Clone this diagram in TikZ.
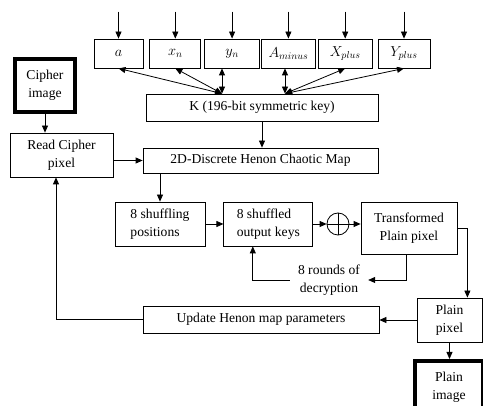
\documentclass[tikz,border=0pt]{standalone}
\usepackage{fontspec}
\setmainfont{Liberation Serif}
\usetikzlibrary{positioning,arrows.meta}

\begin{document}
\begin{tikzpicture}[x=1pt,y=-1pt,
    box/.style={draw, line width=0.8pt, align=center, inner sep=0pt, font=\fontsize{13.6}{18}\selectfont},
    prm/.style={box, minimum height=29pt},
    heavy/.style={box, line width=4pt},
    arr/.style={-{Triangle[length=7pt,width=6pt]}, line width=0.8pt},
    darr/.style={{Triangle[length=7pt,width=6pt]}-{Triangle[length=7pt,width=6pt]}, line width=0.8pt}]
  \useasboundingbox (0,0) rectangle (483,406);
  \clip (0,0) rectangle (483,406);

  \node[prm, minimum width=49pt] (a) at (118.5,53.5) {$a$};
  \node[prm, minimum width=51pt, right=6pt of a] (xn) {$x_n$};
  \node[prm, minimum width=55pt, right=3pt of xn] (yn) {$y_n$};
  \node[prm, minimum width=54pt, right=1pt of yn] (am) {$A_{minus}$};
  \node[prm, minimum width=54pt, right=2pt of am] (xp) {$X_{plus}$};
  \node[prm, minimum width=52pt, right=5pt of xp] (yp) {$Y_{plus}$};

  \node[box, minimum width=232pt, minimum height=27pt] (key) at (262,107.5) {K (196-bit symmetric key)};
  \node[heavy, minimum width=60pt, minimum height=53pt] (cimg) at (45,85.5) {Cipher\\image};
  \node[box, minimum width=103pt, minimum height=44pt] (read) at (61.5,155) {Read Cipher\\pixel};
  \node[box, minimum width=235pt, minimum height=25pt] (henon) at (260.5,160.5) {2D-Discrete Henon Chaotic Map};

  \node[box, align=left, minimum width=90pt, minimum height=44pt] (shuf) at (160,224) {8 shuffling\\positions};
  \node[box, align=left, minimum width=89pt, minimum height=44pt, right=18pt of shuf] (keys) {8 shuffled\\output keys};
  \node[draw, circle, minimum size=22pt, inner sep=0pt, line width=0.8pt] (xor) at (338,224) {};
  \node[box, minimum width=96pt, minimum height=52pt] (trans) at (409,228) {Transformed\\Plain pixel};
  \node[align=center, inner xsep=8pt, font=\fontsize{13.6}{18}\selectfont] (rounds) at (329,280) {8 rounds of\\decryption};

  \node[box, minimum width=65pt, minimum height=44pt] (plain) at (449.5,320) {Plain\\pixel};
  \node[box, minimum width=236pt, minimum height=27pt] (upd) at (261,319.5) {Update Henon map parameters};
  \node[heavy, minimum width=68pt, minimum height=52pt] (pimg) at (449,387) {Plain\\image};

  \draw[line width=0.8pt] (xor.north) -- (xor.south) (xor.west) -- (xor.east);

  \foreach \n in {a,xn,yn,am,xp,yp}
    \draw[arr] ([yshift=27pt]\n.north) -- (\n.north);

  \coordinate (kl) at ([xshift=-40pt]key.north);
  \coordinate (kr) at ([xshift=23pt]key.north);
  \draw[darr] (kl) -- (a.south);
  \draw[darr] (kl) -- (xn.south);
  \draw[darr] (kl) -- (kl |- yn.south);
  \draw[darr] (kr) -- (kr |- am.south);
  \draw[darr] (kr) -- (xp.south);
  \draw[darr] (kr) -- (yp.south);

  \draw[arr] (cimg) -- (cimg |- read.north);
  \draw[arr] (key) -- (key |- henon.north);
  \draw[arr] (read.east |- henon) -- (henon.west);
  \draw[arr] (henon.south -| shuf) -- (shuf.north);
  \draw[arr] (shuf) -- (keys);
  \draw[arr] (keys) -- (xor);
  \draw[arr] (xor) -- (xor -| trans.west);
  \coordinate (tr) at ([xshift=10pt]trans.east);
  \draw[arr] (trans.east) -- (tr) -- (tr |- plain.north);
  \draw[arr] ([xshift=-3pt]trans.south) |- (rounds.east);
  \draw[arr] (rounds.west) -| ([xshift=-15.5pt]keys.south);
  \draw[arr] (plain.west) -- (plain.west -| upd.east);
  \draw[arr] (upd.west) -| ([xshift=-5.5pt]read.south);
  \draw[arr] (plain) -- (plain |- pimg.north);
\end{tikzpicture}
\end{document}
